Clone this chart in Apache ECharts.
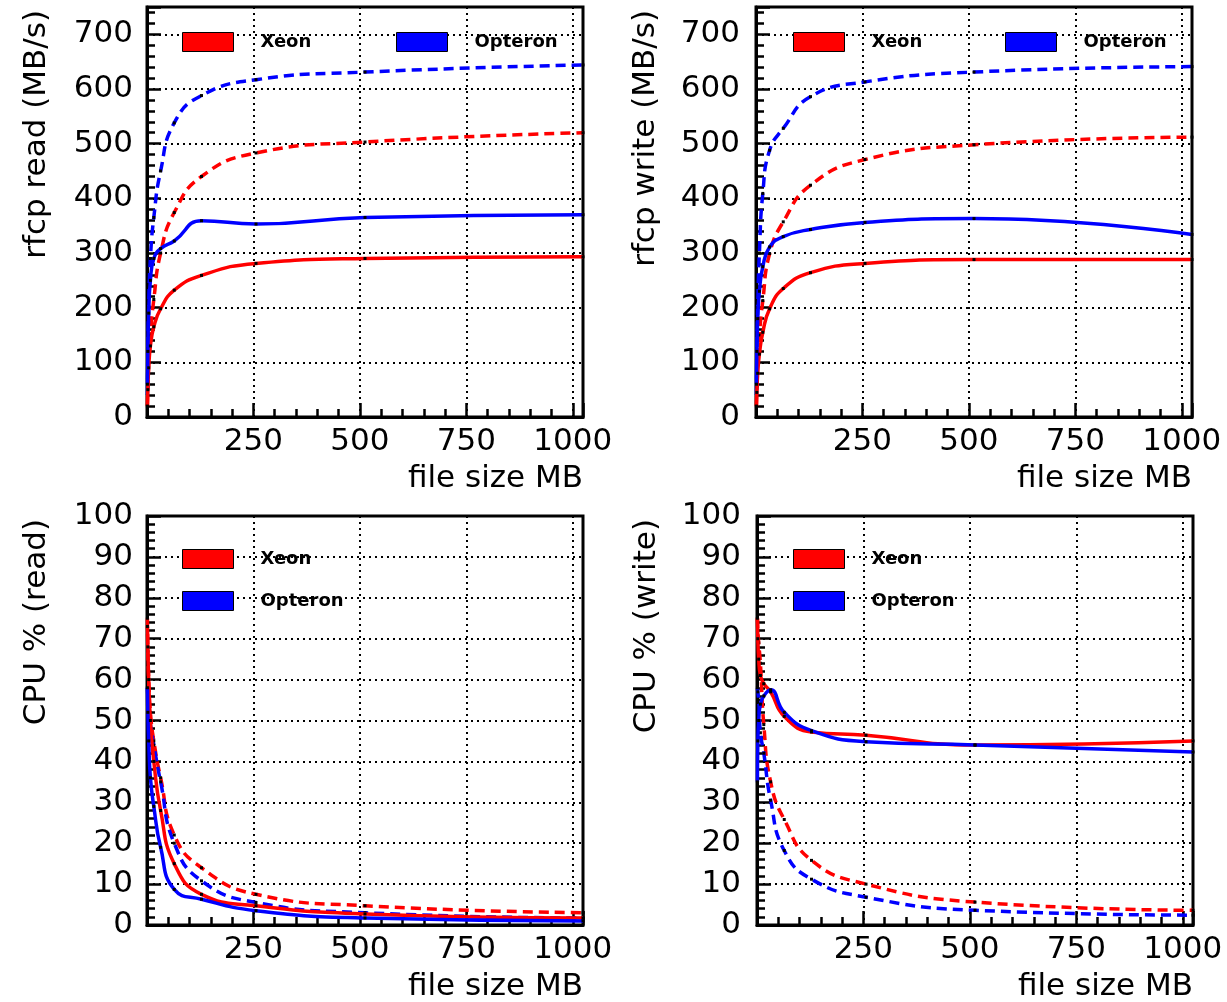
<!DOCTYPE html>
<html>
<head>
<meta charset="utf-8">
<script src="https://cdn.jsdelivr.net/npm/echarts@6/dist/echarts.min.js"></script>
<style>
html, body { margin: 0; padding: 0; background: #fff; }
#chart { width: 1227px; height: 1002px; }
</style>
</head>
<body>
<div id="chart"></div>
<script>
// ---- data (file size in MB, measured at powers of two) ----
const fileSizes = [1, 2, 4, 8, 16, 32, 64, 128, 256, 512, 1024];
const cpuNames = ['Xeon', 'Opteron'];

// rfcp read throughput (MB/s)
const readXeon        = [20, 50, 90, 130, 165, 198, 232, 259, 281, 290, 293];
const readOpteron     = [60, 120, 190, 250, 290, 308, 322, 359, 353, 365, 370];
const readXeonDash    = [20, 55, 100, 150, 215, 300, 374, 440, 483, 503, 520];
const readOpteronDash = [40, 100, 200, 290, 365, 450, 538, 588, 617, 631, 644];

// rfcp write throughput (MB/s)
const writeXeon        = [20, 45, 80, 115, 155, 198, 235, 264, 281, 288, 288];
const writeOpteron     = [60, 120, 180, 230, 275, 311, 330, 343, 356, 363, 334];
const writeXeonDash    = [20, 55, 100, 150, 213, 299, 357, 424, 471, 498, 512];
const writeOpteronDash = [40, 100, 200, 300, 409, 488, 528, 586, 613, 631, 641];

// CPU % during read
const cpuReadXeon        = [73, 68, 60, 50, 40, 28, 15, 7.5, 4.7, 2.7, 1.7];
const cpuReadOpteron     = [58, 52, 45, 36, 29, 19, 8.7, 6.3, 3.5, 1.7, 1.0];
const cpuReadXeonDash    = [75, 67, 60, 52, 45, 36, 22, 14, 7.5, 4.7, 3.0];
const cpuReadOpteronDash = [58, 56, 53, 49, 44, 35, 20, 10.8, 5.5, 3.0, 1.7];

// CPU % during write
const cpuWriteXeon        = [75, 70, 65, 61, 59, 57, 51, 47.2, 46.4, 44, 45];
const cpuWriteOpteron     = [35, 45, 50, 54, 56, 57.5, 52, 47.5, 44.8, 44, 42.3];
const cpuWriteXeonDash    = [75, 72, 69, 64, 49, 35, 25.8, 15.8, 10, 5.6, 3.6];
const cpuWriteOpteronDash = [58, 57, 55, 47, 42, 30.5, 18.2, 11.2, 6.8, 3.6, 2.4];

// axis labels
const xTitle = 'file size MB';
const yTitles = ['rfcp read (MB/s)', 'rfcp write (MB/s)', 'CPU % (read)', 'CPU % (write)'];

// ---- layout ----
const FONT = 'DejaVu Sans';
const RED = '#ff0000', BLUE = '#0000ff';
const grids = [
  { left: 147, top: 7, width: 436, height: 410 },
  { left: 756, top: 7, width: 436, height: 410 },
  { left: 147, top: 516, width: 436, height: 412 },
  { left: 757, top: 516, width: 436, height: 412 }
];
const panels = [
  { yMax: 750, yMajor: 100, yMinor: 20, labelMargin: 14, sets: [readXeon, readOpteron, readXeonDash, readOpteronDash] },
  { yMax: 750, yMajor: 100, yMinor: 20, labelMargin: 16, sets: [writeXeon, writeOpteron, writeXeonDash, writeOpteronDash] },
  { yMax: 100, yMajor: 10, yMinor: 2, labelMargin: 14, sets: [cpuReadXeon, cpuReadOpteron, cpuReadXeonDash, cpuReadOpteronDash] },
  { yMax: 100, yMajor: 10, yMinor: 2, labelMargin: 16, sets: [cpuWriteXeon, cpuWriteOpteron, cpuWriteXeonDash, cpuWriteOpteronDash] }
];

const tickStyle = { color: '#000', width: 2.5 };
const gridLine = { show: true, lineStyle: { color: '#000', width: 2, type: [2, 4] } };
const labelFont = { fontFamily: FONT, fontSize: 31, color: '#000' };

const xAxis = [], yAxis = [], series = [];
panels.forEach((p, i) => {
  xAxis.push({
    gridIndex: i, type: 'value', min: 0, max: 1024, interval: 250, position: 'bottom',
    axisLine: { show: true, onZero: false, lineStyle: { color: '#000', width: 3 } },
    axisTick: { show: true, inside: true, length: 14, lineStyle: tickStyle },
    axisLabel: Object.assign({ margin: 9, formatter: v => (v > 0 && v % 250 === 0) ? String(v) : '' }, labelFont),
    splitLine: gridLine,
    name: xTitle, nameLocation: 'end', nameGap: 0,
    nameTextStyle: Object.assign({ align: 'right', verticalAlign: 'top', padding: [46, 0, 0, 0] }, labelFont)
  });
  xAxis.push({
    gridIndex: i, type: 'value', min: 0, max: 1024, interval: 50, position: 'bottom',
    axisLine: { show: false }, axisLabel: { show: false }, splitLine: { show: false },
    axisTick: { show: true, inside: true, length: 8, lineStyle: tickStyle }
  });
  yAxis.push({
    gridIndex: i, type: 'value', min: 0, max: p.yMax, interval: p.yMajor, position: 'left',
    axisLine: { show: true, onZero: false, lineStyle: { color: '#000', width: 3 } },
    axisTick: { show: true, inside: true, length: 14, lineStyle: tickStyle },
    axisLabel: Object.assign({ margin: p.labelMargin, formatter: v => (v % p.yMajor === 0) ? String(v) : '' }, labelFont),
    splitLine: gridLine,
    name: yTitles[i], nameLocation: 'end', nameRotate: 90, nameGap: -3,
    nameTextStyle: Object.assign({ align: 'right', verticalAlign: 'bottom', padding: [0, 0, 95, 0] }, labelFont)
  });
  yAxis.push({
    gridIndex: i, type: 'value', min: 0, max: p.yMax, interval: p.yMinor, position: 'left',
    axisLine: { show: false }, axisLabel: { show: false }, splitLine: { show: false },
    axisTick: { show: true, inside: true, length: 8, lineStyle: tickStyle }
  });
  const colors = [RED, BLUE, RED, BLUE];
  p.sets.forEach((ys, k) => {
    series.push({
      type: 'line', name: cpuNames[k % 2],
      xAxisIndex: i * 2, yAxisIndex: i * 2,
      data: fileSizes.map((x, j) => [x, ys[j]]),
      smooth: true,
      symbol: 'rect', symbolSize: 3, showSymbol: true,
      itemStyle: { color: '#000' },
      lineStyle: { color: colors[k], width: 3.5, type: k < 2 ? 'solid' : [10, 6] },
      z: k < 2 ? 3 : 2
    });
  });
});

// legends: one entry each, placed inside each frame
const legendSpots = [
  ['Xeon', 182, 32], ['Opteron', 396, 32],
  ['Xeon', 793, 32], ['Opteron', 1005, 32],
  ['Xeon', 182, 549], ['Opteron', 182, 591],
  ['Xeon', 793, 549], ['Opteron', 793, 591]
];
const legend = legendSpots.map(([name, l, t]) => ({
  data: [{ name: name, icon: 'rect', itemStyle: { color: name === 'Xeon' ? RED : BLUE, borderColor: '#000', borderWidth: 1, borderType: 'solid' } }],
  left: l, top: t, padding: 0, itemWidth: 51, itemHeight: 19, selectedMode: false,
  textStyle: { fontFamily: FONT, fontSize: 18, fontWeight: 'bold', color: '#000', padding: [0, 0, 0, 22] }
}));

const chart = echarts.init(document.getElementById('chart'), null, { renderer: 'canvas' });
chart.setOption({
  animation: false,
  backgroundColor: '#fff',
  grid: grids.map(g => Object.assign({ show: true, borderColor: '#000', borderWidth: 3, backgroundColor: 'transparent', containLabel: false }, g)),
  legend: legend,
  xAxis: xAxis,
  yAxis: yAxis,
  series: series
});
</script>
</body>
</html>
